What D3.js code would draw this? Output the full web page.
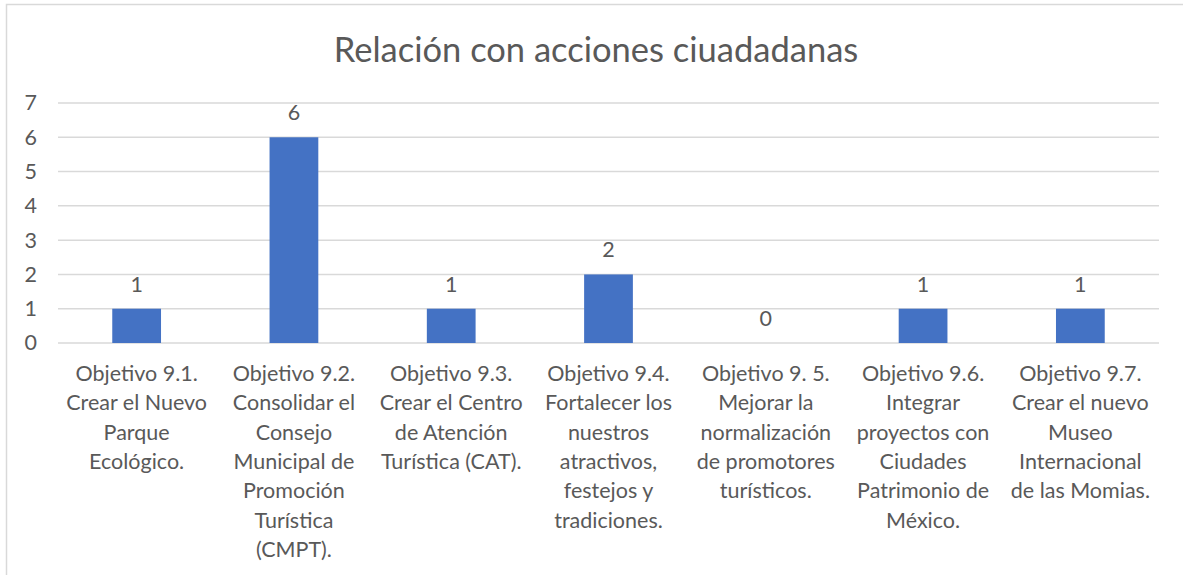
<!DOCTYPE html>
<html>
<head>
<meta charset="utf-8">
<script src="https://cdn.jsdelivr.net/npm/d3@7/dist/d3.min.js"></script>
<style>
  html, body { margin: 0; padding: 0; background: #fff; }
  svg { display: block; }
  text { font-family: Lato, "Open Sans", sans-serif; fill: #595959; }
</style>
</head>
<body>
<svg id="chart" width="1183" height="575"></svg>
<script>
// Chart data
const chartTitle = "Relación con acciones ciuadadanas";
const categories = [
  ["Objetivo 9.1.", "Crear el Nuevo", "Parque", "Ecológico."],
  ["Objetivo 9.2.", "Consolidar el", "Consejo", "Municipal de", "Promoción", "Turística", "(CMPT)."],
  ["Objetivo 9.3.", "Crear el Centro", "de Atención", "Turística (CAT)."],
  ["Objetivo 9.4.", "Fortalecer los", "nuestros", "atractivos,", "festejos y", "tradiciones."],
  ["Objetivo 9. 5.", "Mejorar la", "normalización", "de promotores", "turísticos."],
  ["Objetivo 9.6.", "Integrar", "proyectos con", "Ciudades", "Patrimonio de", "México."],
  ["Objetivo 9.7.", "Crear el nuevo", "Museo", "Internacional", "de las Momias."]
];
const values = [1, 6, 1, 2, 0, 1, 1];
const yTicks = [0, 1, 2, 3, 4, 5, 6, 7];

const svg = d3.select("#chart");
const W = 1183, H = 575;
const plot = { left: 58, right: 1159, top: 103, bottom: 343 };
const labelSize = 21.5;

// Chart frame
svg.append("path")
  .attr("d", `M6.5,${H} V4.5 H${W}`)
  .attr("fill", "none")
  .attr("stroke", "#d9d9d9")
  .attr("stroke-width", 1.5);

// Title
svg.append("text")
  .attr("x", 596)
  .attr("y", 62)
  .attr("text-anchor", "middle")
  .attr("font-size", 34.5)
  .text(chartTitle);

const x = d3.scaleBand()
  .domain(d3.range(categories.length))
  .range([plot.left, plot.right])
  .paddingInner(0.69)
  .paddingOuter(0.345);

const xc = d3.scaleBand()
  .domain(d3.range(categories.length))
  .range([plot.left, plot.right]);

const y = d3.scaleLinear()
  .domain([0, 7])
  .range([plot.bottom, plot.top]);

// Gridlines
svg.append("g")
  .selectAll("line")
  .data(yTicks)
  .join("line")
  .attr("x1", plot.left)
  .attr("x2", plot.right)
  .attr("y1", d => y(d))
  .attr("y2", d => y(d))
  .attr("stroke", "#d9d9d9")
  .attr("stroke-width", 1.5);

// Y axis labels
const yAxis = d3.axisLeft(y).tickValues(yTicks).tickFormat(d3.format("d")).tickSize(0).tickPadding(0);
const gy = svg.append("g")
  .attr("transform", `translate(37,0)`)
  .call(yAxis);
gy.select(".domain").remove();
gy.selectAll("text")
  .attr("font-size", labelSize)
  .attr("fill", "#595959")
  .style("font-family", "Lato, 'Open Sans', sans-serif");

// Bars
svg.append("g")
  .selectAll("rect")
  .data(values)
  .join("rect")
  .attr("x", (d, i) => x(i))
  .attr("width", x.bandwidth())
  .attr("y", d => y(d))
  .attr("height", d => y(0) - y(d))
  .attr("fill", "#4472c4");

// Value labels
svg.append("g")
  .selectAll("text")
  .data(values)
  .join("text")
  .attr("x", (d, i) => xc(i) + xc.bandwidth() / 2)
  .attr("y", d => y(d) - 17)
  .attr("text-anchor", "middle")
  .attr("font-size", labelSize)
  .text(d => d);

// Category labels
const cat = svg.append("g")
  .selectAll("text")
  .data(categories)
  .join("text")
  .attr("x", (d, i) => xc(i) + xc.bandwidth() / 2)
  .attr("y", 381)
  .attr("text-anchor", "middle")
  .attr("font-size", labelSize);
cat.selectAll("tspan")
  .data(d => d)
  .join("tspan")
  .attr("x", function () { return d3.select(this.parentNode).attr("x"); })
  .attr("dy", (d, i) => i === 0 ? 0 : 29.3)
  .text(d => d);
</script>
</body>
</html>
